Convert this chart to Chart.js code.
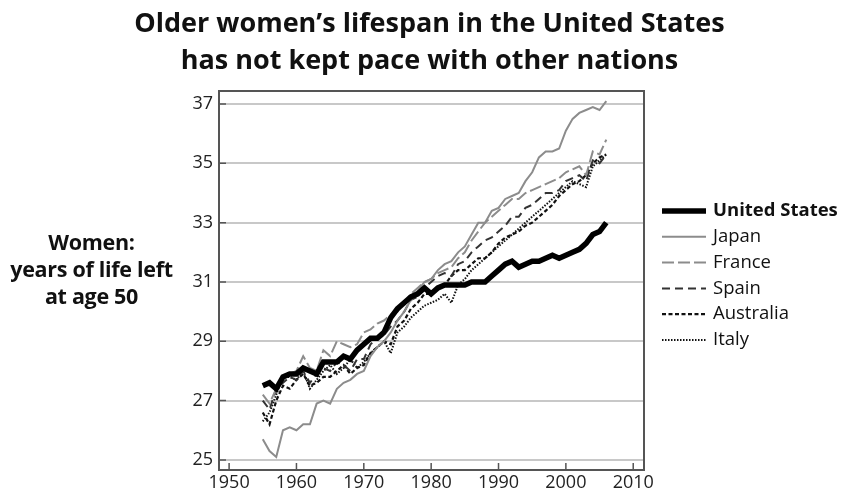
<!DOCTYPE html>
<html>
<head>
<meta charset="utf-8">
<script src="https://cdn.jsdelivr.net/npm/chart.js@4.4.0/dist/chart.umd.min.js"></script>
<style>
  body { margin: 0; background: #fff; }
  #wrap { position: relative; width: 843px; height: 496px; }
  #title {
    position: absolute; left: 16px; top: 3px; width: 827px;
    font: bold 27px "Open Sans", sans-serif; line-height: 37px;
    text-align: center; color: #111;
  }
  #ylabel {
    position: absolute; left: 0; top: 228px; width: 183px;
    font: bold 21.5px "Open Sans", sans-serif; line-height: 27px;
    text-align: center; color: #111; letter-spacing: -0.3px;
  }
</style>
</head>
<body>
<div id="wrap">
  <canvas id="chart" width="843" height="496"></canvas>
  <div id="title">Older women’s lifespan in the United States<br>has not kept pace with other nations</div>
  <div id="ylabel">Women:<br>years of life left<br>at age 50</div>
</div>
<script>
// years of life left at age 50, women, 1955-2006
const years = [];
for (let y = 1955; y <= 2006; y++) years.push(y);

const countries = ['United States', 'Japan', 'France', 'Spain', 'Australia', 'Italy'];

const unitedStates = [27.5, 27.6, 27.4, 27.8, 27.9, 27.9, 28.1, 28.0, 27.9, 28.3,
  28.3, 28.3, 28.5, 28.4, 28.7, 28.9, 29.1, 29.1, 29.3, 29.8,
  30.1, 30.3, 30.5, 30.6, 30.8, 30.6, 30.8, 30.9, 30.9, 30.9,
  30.9, 31.0, 31.0, 31.0, 31.2, 31.4, 31.6, 31.7, 31.5, 31.6,
  31.7, 31.7, 31.8, 31.9, 31.8, 31.9, 32.0, 32.1, 32.3, 32.6,
  32.7, 33.0];
const japan = [25.7, 25.3, 25.1, 26.0, 26.1, 26.0, 26.2, 26.2, 26.9, 27.0,
  26.9, 27.4, 27.6, 27.7, 27.9, 28.0, 28.5, 28.8, 29.0, 29.3,
  29.7, 30.0, 30.4, 30.7, 31.0, 31.1, 31.4, 31.6, 31.7, 32.0,
  32.2, 32.6, 33.0, 33.0, 33.4, 33.5, 33.8, 33.9, 34.0, 34.4,
  34.7, 35.2, 35.4, 35.4, 35.5, 36.1, 36.5, 36.7, 36.8, 36.9,
  36.8, 37.1];
const france = [27.2, 26.9, 27.4, 27.8, 27.9, 28.0, 28.5, 28.1, 28.0, 28.7,
  28.5, 29.0, 28.9, 28.8, 28.9, 29.3, 29.4, 29.6, 29.7, 29.9,
  30.0, 30.3, 30.6, 30.8, 31.0, 31.1, 31.3, 31.4, 31.5, 31.8,
  32.0, 32.4, 32.7, 33.0, 33.2, 33.4, 33.6, 33.8, 33.8, 34.0,
  34.1, 34.2, 34.3, 34.4, 34.5, 34.7, 34.8, 34.9, 34.6, 35.4,
  35.3, 35.8];
const spain = [27.0, 26.7, 27.4, 27.6, 27.8, 27.7, 28.0, 27.6, 27.9, 28.1,
  28.0, 28.3, 28.2, 28.0, 28.4, 28.4, 28.9, 29.1, 29.2, 29.5,
  29.7, 30.0, 30.4, 30.5, 30.8, 31.0, 31.2, 31.3, 31.2, 31.6,
  31.7, 32.0, 32.2, 32.4, 32.5, 32.7, 32.9, 33.2, 33.2, 33.5,
  33.6, 33.8, 34.0, 34.0, 34.1, 34.4, 34.5, 34.6, 34.4, 35.1,
  35.0, 35.3];
const australia = [26.6, 26.2, 27.0, 27.5, 27.4, 27.7, 27.9, 27.5, 27.6, 27.8,
  27.8, 28.0, 28.2, 27.9, 28.1, 28.2, 28.6, 28.8, 29.0, 28.9,
  29.5, 29.7, 30.1, 30.3, 30.6, 30.6, 30.8, 30.9, 31.2, 31.4,
  31.4, 31.6, 31.8, 31.8, 32.0, 32.3, 32.5, 32.6, 32.7, 32.9,
  33.0, 33.2, 33.4, 33.6, 33.9, 34.1, 34.3, 34.4, 34.6, 35.0,
  35.2, 35.3];
const italy = [26.3, 26.6, 27.2, 27.8, 27.8, 27.7, 28.0, 27.4, 27.7, 28.0,
  28.2, 27.9, 28.1, 28.4, 28.1, 28.3, 28.6, 28.8, 29.0, 28.6,
  29.3, 29.5, 29.8, 30.0, 30.2, 30.3, 30.4, 30.6, 30.3, 30.9,
  31.1, 31.4, 31.6, 31.8, 32.0, 32.2, 32.4, 32.6, 32.8, 33.0,
  33.2, 33.4, 33.6, 33.8, 34.0, 34.2, 34.4, 34.3, 34.2, 34.9,
  35.1, 35.3];

const xTicks = [1950, 1960, 1970, 1980, 1990, 2000, 2010];
const yTicks = [25, 27, 29, 31, 33, 35, 37];

const seriesValues = [unitedStates, japan, france, spain, australia, italy];
const lineStyles = [
  { color: '#000', width: 5.5, dash: [] },
  { color: '#8c8c8c', width: 2, dash: [] },
  { color: '#8c8c8c', width: 2, dash: [12, 4] },
  { color: '#333', width: 2, dash: [8, 5] },
  { color: '#111', width: 2.2, dash: [4, 2.5] },
  { color: '#111', width: 2, dash: [1.5, 1.5] },
];

const font = '"Open Sans", sans-serif';

// frame round the plot plus inward tick marks
const framePlugin = {
  id: 'frame',
  beforeDatasetsDraw(chart) {
    const { ctx, chartArea: a, scales } = chart;
    ctx.save();
    ctx.strokeStyle = '#555';
    ctx.lineWidth = 2;
    ctx.strokeRect(a.left, a.top, a.right - a.left, a.bottom - a.top);
    ctx.lineWidth = 1.5;
    ctx.beginPath();
    xTicks.forEach(v => {
      const px = scales.x.getPixelForValue(v);
      ctx.moveTo(px, a.bottom);
      ctx.lineTo(px, a.bottom - 7);
    });
    yTicks.forEach(v => {
      const py = scales.y.getPixelForValue(v);
      ctx.moveTo(a.left, py);
      ctx.lineTo(a.left + 7, py);
    });
    ctx.stroke();
    ctx.restore();
  }
};

// legend on the right, first entry bold
const legendPlugin = {
  id: 'sideLegend',
  afterDraw(chart) {
    const { ctx, chartArea: a } = chart;
    const x0 = a.right + 18;
    const x1 = x0 + 44;
    ctx.save();
    chart.data.datasets.forEach((ds, i) => {
      const y = 211 + i * 25.8;
      ctx.beginPath();
      ctx.strokeStyle = ds.borderColor;
      ctx.lineWidth = ds.borderWidth;
      ctx.setLineDash(ds.borderDash);
      ctx.moveTo(x0, y);
      ctx.lineTo(x1, y);
      ctx.stroke();
      ctx.setLineDash([]);
      ctx.fillStyle = '#111';
      ctx.font = (i === 0 ? 'bold ' : '') + '18.5px ' + font;
      ctx.textBaseline = 'middle';
      ctx.fillText(ds.label, x1 + 7, y);
    });
    ctx.restore();
  }
};

const datasets = countries.map((name, i) => ({
  label: name,
  data: years.map((yr, j) => ({ x: yr, y: seriesValues[i][j] })),
  borderColor: lineStyles[i].color,
  borderWidth: lineStyles[i].width,
  borderDash: lineStyles[i].dash,
  pointRadius: 0,
  fill: false,
  tension: 0,
}));

new Chart(document.getElementById('chart'), {
  type: 'line',
  data: { datasets },
  plugins: [framePlugin, legendPlugin],
  options: {
    responsive: false,
    animation: false,
    layout: { padding: { top: 91, right: 199, left: 0, bottom: 0 } },
    plugins: {
      legend: { display: false },
      tooltip: { enabled: false },
      title: { display: false },
    },
    scales: {
      x: {
        type: 'linear',
        min: 1948.5,
        max: 2011.6,
        afterBuildTicks: s => { s.ticks = xTicks.map(v => ({ value: v })); },
        afterFit: s => { s.height = 26; },
        grid: { display: false, drawTicks: false },
        border: { display: false },
        ticks: { font: { family: font, size: 18 }, color: '#222', padding: 2, maxRotation: 0, callback: v => String(v) },
      },
      y: {
        min: 24.66,
        max: 37.44,
        afterBuildTicks: s => { s.ticks = yTicks.map(v => ({ value: v })); },
        afterFit: s => { s.width = 219; },
        grid: { color: '#c8c8c8', lineWidth: 2, drawTicks: false },
        border: { display: false },
        ticks: { font: { family: font, size: 18 }, color: '#222', padding: 6 },
      },
    },
  },
});
</script>
</body>
</html>
